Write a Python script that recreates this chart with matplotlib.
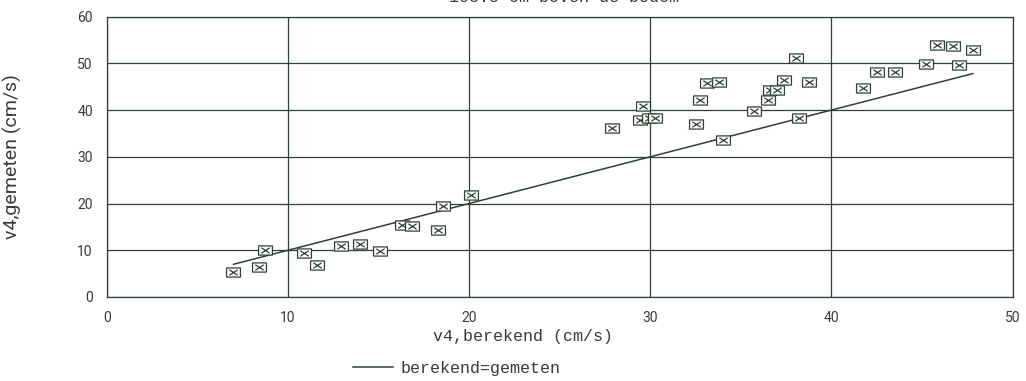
import matplotlib
matplotlib.use("Agg")
import matplotlib.pyplot as plt
from matplotlib.path import Path

# v4 snelheden op 108.5 cm boven de bodem
v4_berekend = [6.95, 8.42, 8.75, 10.9, 11.62, 12.92, 14.0, 15.09, 16.27, 16.86,
               18.27, 18.57, 20.1, 27.89, 29.45, 29.6, 29.93, 30.24, 32.5, 32.73,
               33.15, 33.77, 34.0, 35.7, 36.47, 36.6, 37.0, 37.4, 38.06, 38.2,
               38.74, 41.73, 42.53, 43.52, 45.19, 45.8, 46.68, 47.06, 47.82]
v4_gemeten = [5.42, 6.36, 10.0, 9.49, 6.92, 10.92, 11.35, 9.9, 15.35, 15.2,
              14.35, 19.5, 21.8, 36.25, 37.9, 40.8, 38.3, 38.3, 37.1, 42.2,
              45.75, 45.97, 33.55, 39.7, 42.2, 44.2, 44.2, 46.4, 51.1, 38.3,
              45.97, 44.7, 48.2, 48.2, 49.9, 54.0, 53.8, 49.6, 52.8]
lijn_x = [7.0, 47.8]

x_ticks = [0, 10, 20, 30, 40, 50]
y_ticks = [0, 10, 20, 30, 40, 50, 60]

ink = "#2e4233"
text_col = "#3a3a3a"
narrow = ["Liberation Sans Narrow", "Roboto", "DejaVu Sans"]
mono = ["Liberation Mono", "DejaVu Sans Mono"]

# envelope-style marker: box with a cross inside
w, h = 1.0, 0.66
env = Path(
    [(-w, -h), (w, -h), (w, h), (-w, h), (-w, -h),
     (-w * 0.6, -h * 0.6), (w * 0.6, h * 0.6),
     (-w * 0.6, h * 0.6), (w * 0.6, -h * 0.6)],
    [Path.MOVETO, Path.LINETO, Path.LINETO, Path.LINETO, Path.CLOSEPOLY,
     Path.MOVETO, Path.LINETO, Path.MOVETO, Path.LINETO],
)

fig = plt.figure(figsize=(10.26, 3.81), dpi=100)
ax = fig.add_axes([0.104, 0.2205, 0.883, 0.736])

ax.plot(lijn_x, lijn_x, color=ink, lw=1.1, label="berekend=gemeten")
ax.plot(v4_berekend, v4_gemeten, ls="none", marker=env, markersize=10,
        markerfacecolor="white", markeredgecolor=ink, markeredgewidth=0.9)

ax.set_xlim(0, 50)
ax.set_ylim(0, 60)
ax.set_xticks(x_ticks)
ax.set_yticks(y_ticks)
ax.grid(True, color=ink, lw=0.9)
ax.set_axisbelow(True)
for sp in ax.spines.values():
    sp.set_color(ink)
    sp.set_linewidth(0.9)
ax.tick_params(length=0, colors=text_col, pad=10)
for lab in ax.get_xticklabels() + ax.get_yticklabels():
    lab.set_family(narrow)
    lab.set_fontsize(10)

ax.set_xlabel("v4,berekend (cm/s)", family=mono, fontsize=12, color=text_col)
ax.xaxis.set_label_coords(0.46, -0.115)
ax.set_ylabel("v4,gemeten (cm/s)", family=narrow, fontsize=14, color=text_col)
ax.yaxis.set_label_coords(-0.093, 0.5)

fig.text(0.55, 0.995, "108.5 cm boven de bodem", family=mono, fontsize=12,
         color=text_col, ha="center", va="baseline")

leg = ax.legend(loc="upper left", bbox_to_anchor=(0.265, -0.205), frameon=False,
                handlelength=2.4, handletextpad=0.4, borderaxespad=0,
                prop={"family": mono, "size": 12})
for t in leg.get_texts():
    t.set_color(text_col)

fig.savefig("out.png", dpi=100)
